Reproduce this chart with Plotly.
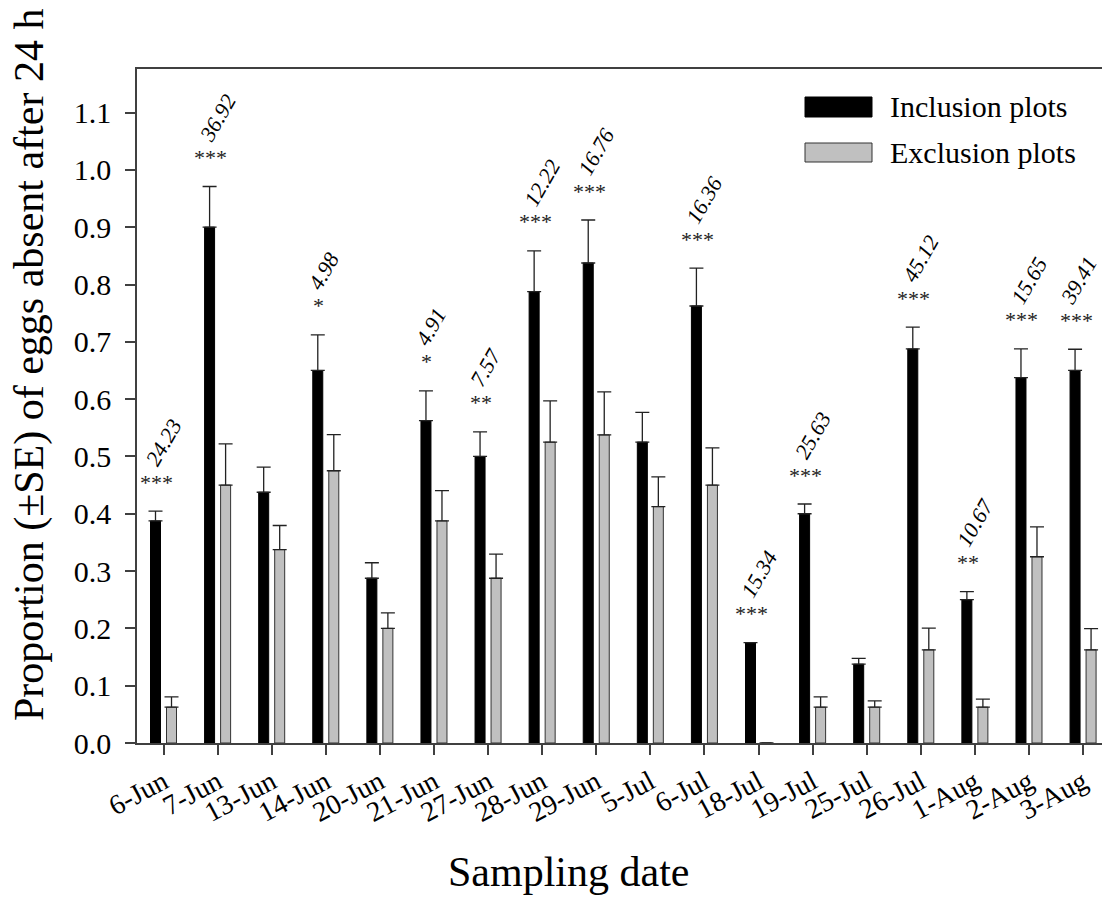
import plotly.graph_objects as go

dates = ["6-Jun", "7-Jun", "13-Jun", "14-Jun", "20-Jun", "21-Jun", "27-Jun", "28-Jun",
         "29-Jun", "5-Jul", "6-Jul", "18-Jul", "19-Jul", "25-Jul", "26-Jul", "1-Aug",
         "2-Aug", "3-Aug"]
inclusion = [0.3875, 0.9, 0.4375, 0.65, 0.2875, 0.5625, 0.5, 0.7875, 0.8375, 0.525,
             0.7625, 0.175, 0.4, 0.1375, 0.6875, 0.25, 0.6375, 0.65]
inclusion_se = [0.017, 0.071, 0.044, 0.062, 0.027, 0.052, 0.043, 0.071, 0.075, 0.052,
                0.066, None, 0.017, 0.010, 0.038, 0.014, 0.050, 0.037]
exclusion = [0.0625, 0.45, 0.3375, 0.475, 0.2, 0.3875, 0.2875, 0.525, 0.5375, 0.4125,
             0.45, 0.0, 0.0625, 0.0625, 0.1625, 0.0625, 0.325, 0.1625]
exclusion_se = [0.018, 0.072, 0.042, 0.063, 0.027, 0.053, 0.042, 0.072, 0.075, 0.052,
                0.065, None, 0.018, 0.011, 0.038, 0.014, 0.052, 0.037]
stars = ["***", "***", "", "*", "", "*", "**", "***", "***", "", "***", "***", "***",
         "", "***", "**", "***", "***"]
chi_sq = ["24.23", "36.92", "", "4.98", "", "4.91", "7.57", "12.22", "16.76", "",
          "16.36", "15.34", "25.63", "", "45.12", "10.67", "15.65", "39.41"]
y_ticks = [0.0, 0.1, 0.2, 0.3, 0.4, 0.5, 0.6, 0.7, 0.8, 0.9, 1.0, 1.1]

FONT = "Liberation Serif"
W, H = 1102, 900
ML, MR, MT, MB = 137, 0, 69, 157
PW, PH = W - ML - MR, H - MT - MB


def px_x(px):
    return (px - ML) / PW


def px_y(py):
    return (H - MB - py) / PH


fig = go.Figure()
fig.add_trace(go.Bar(
    name="Inclusion plots", x=dates, y=inclusion,
    marker=dict(color="black", line=dict(color="black", width=1)),
    error_y=dict(type="data", array=inclusion_se, arrayminus=[0] * len(dates),
                 symmetric=False, color="#222222", thickness=1.3, width=7),
    showlegend=False,
))
fig.add_trace(go.Bar(
    name="Exclusion plots", x=dates, y=exclusion,
    marker=dict(color="#c0c0c0", line=dict(color="#333333", width=1)),
    error_y=dict(type="data", array=exclusion_se, arrayminus=[0] * len(dates),
                 symmetric=False, color="#222222", thickness=1.3, width=7),
    showlegend=False,
))

annotations = []
n = len(dates)
for i, (d, v, se, s, c) in enumerate(zip(dates, inclusion, inclusion_se, stars, chi_sq)):
    top = v + (se or 0)
    if s:
        annotations.append(dict(
            x=d, y=top, xref="x", yref="y", text=s, showarrow=False,
            xanchor="center", yanchor="middle", xshift=-7, yshift=29,
            font=dict(family=FONT, size=22, color="#222222")))
    if c:
        annotations.append(dict(
            x=d, y=top, xref="x", yref="y", text="<i>" + c + "</i>", showarrow=False,
            xanchor="left", yanchor="bottom", xshift=-26 - (5 if i == n - 1 else 0),
            yshift=38, textangle=-60,
            font=dict(family=FONT, size=22, color="black")))

# axis titles
annotations.append(dict(
    x=px_x(30), y=px_y(365), xref="paper", yref="paper",
    text="Proportion (±SE) of eggs absent after 24 h", showarrow=False,
    textangle=-90, xanchor="center", yanchor="middle",
    font=dict(family=FONT, size=42, color="black")))
annotations.append(dict(
    x=px_x(568), y=px_y(872), xref="paper", yref="paper",
    text="Sampling date", showarrow=False, xanchor="center", yanchor="middle",
    font=dict(family=FONT, size=42, color="black")))

# legend
shapes = [
    dict(type="rect", xref="paper", yref="paper", x0=px_x(805), x1=px_x(872),
         y0=px_y(117), y1=px_y(97), fillcolor="black", line=dict(color="black", width=1)),
    dict(type="rect", xref="paper", yref="paper", x0=px_x(805), x1=px_x(872),
         y0=px_y(162), y1=px_y(143), fillcolor="#c0c0c0", line=dict(color="#333333", width=1)),
]
annotations.append(dict(
    x=px_x(888), y=px_y(107), xref="paper", yref="paper", text="Inclusion plots",
    showarrow=False, xanchor="left", yanchor="middle",
    font=dict(family=FONT, size=30, color="black")))
annotations.append(dict(
    x=px_x(888), y=px_y(152), xref="paper", yref="paper", text="Exclusion plots",
    showarrow=False, xanchor="left", yanchor="middle",
    font=dict(family=FONT, size=30, color="black")))

fig.update_layout(
    width=W, height=H,
    margin=dict(l=ML, r=MR, t=MT, b=MB, pad=0),
    paper_bgcolor="white", plot_bgcolor="white",
    barmode="group", bargap=0.408, bargroupgap=0.375,
    font=dict(family=FONT, color="black"),
    annotations=annotations, shapes=shapes,
    xaxis=dict(
        type="category", range=[-0.49, 17.35],
        showline=True, linecolor="#404040", linewidth=1.5, mirror=True,
        ticks="outside", ticklen=10, tickcolor="#404040", tickwidth=1.5,
        tickangle=-28, tickfont=dict(family=FONT, size=28, color="black"),
        showgrid=False, zeroline=False,
    ),
    yaxis=dict(
        range=[0, 1.176], tickvals=y_ticks, tickformat=".1f",
        showline=True, linecolor="#404040", linewidth=1.5,
        ticks="outside", ticklen=10, tickcolor="#404040", tickwidth=1.5,
        tickfont=dict(family=FONT, size=30, color="black"), ticklabelstandoff=8,
        showgrid=False, zeroline=False,
    ),
)

fig.write_html("out.html")
